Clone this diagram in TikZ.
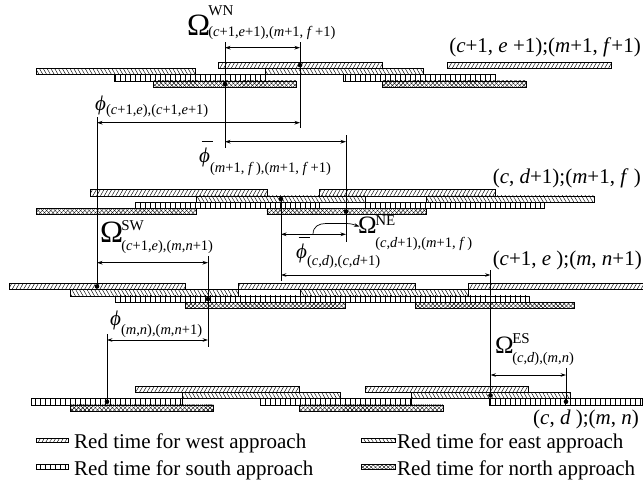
\documentclass[tikz,border=0pt]{standalone}
\usepackage{fontspec}
\setmainfont{Liberation Serif}
\usetikzlibrary{patterns.meta,arrows.meta}

% italic variable
\newcommand\vi[1]{\textit{#1}}
% Omega with super- and subscript: size, sup raise, sub drop, sup, sub
\newcommand\omlab[5]{{\fontsize{#1}{#1}\selectfont Ω\kern-.06em}\rlap{\raisebox{#2}{\fontsize{15}{15}\selectfont #4}}\raisebox{-#3}{\fontsize{14.5}{14.5}\selectfont #5}}
% phi with subscript: symbol, sub drop, sub
\newcommand\phlab[3]{{\fontsize{21}{21}\selectfont #1}\raisebox{-#2}{\fontsize{14.5}{14.5}\selectfont #3}}
\newcommand\phisym{\textit{ϕ}}
\newcommand\phibar{\rlap{\hspace{2.5pt}\rule[20.5pt]{11pt}{0.8pt}}\textit{ϕ}}

% one red-time bar per approach, drawn inside a row scope
\newcommand\westred[2]{\path[westbar] (#1,0) rectangle (#2,6.3);}
\newcommand\eastred[2]{\path[eastbar] (#1,6.3) rectangle (#2,12.6);}
\newcommand\southred[2]{\path[southbar] (#1,12.6) rectangle (#2,18.9);}
\newcommand\northred[2]{\path[northbar] (#1,18.9) rectangle (#2,25.2);}

\tikzset{
  barline/.style={draw=black,line width=.55pt},
  westbar/.style={barline,pattern={Lines[angle=60,distance=3.3pt,line width=.45pt]}},
  eastbar/.style={barline,pattern={Lines[angle=-60,distance=3.3pt,line width=.45pt]}},
  southbar/.style={barline,pattern={Lines[angle=90,distance=5pt,line width=.5pt]}},
  northbar/.style={barline,pattern={Lines[angle=45,distance=3pt,line width=.4pt]},
    postaction={pattern={Lines[angle=-45,distance=3pt,line width=.4pt]}}},
  guide/.style={line width=.7pt},
  dim/.style={line width=.7pt,{Stealth[length=5.5pt,width=3.6pt]}-{Stealth[length=5.5pt,width=3.6pt]}},
  hookarrow/.style={line width=.7pt,-{Stealth[length=5.5pt,width=3.6pt]}},
  dot/.style={circle,fill=black,inner sep=0pt,minimum size=4.6pt},
  lab/.style={inner sep=0pt,anchor=base west},
  rowlab/.style={inner sep=0pt,anchor=base east,font=\fontsize{21}{21}\selectfont},
  legtext/.style={inner sep=0pt,anchor=base west,font=\fontsize{21}{21}\selectfont},
}

\begin{document}
\begin{tikzpicture}[x=1pt,y=-1pt]
\useasboundingbox (0,0) rectangle (643,482);

% ---- row 1: (c+1, e+1);(m+1, f+1)
\begin{scope}[shift={(0,62)}]
  \westred{218.3}{382.3} \westred{447.7}{611.7}
  \eastred{36}{195} \eastred{265.7}{423.3}
  \southred{114.3}{265.7} \southred{343.3}{495}
  \northred{153}{296.7} \northred{382.3}{526}
\end{scope}
% ---- row 2: (c, d+1);(m+1, f)
\begin{scope}[shift={(0,189.5)}]
  \westred{90.5}{267} \westred{319.3}{495.5}
  \eastred{196.5}{365} \eastred{426.6}{594.5}
  \southred{135.5}{319.3} \southred{365}{544}
  \northred{36.7}{196.5} \northred{266.8}{426.6}
\end{scope}
% ---- row 3: (c+1, e);(m, n+1)
\begin{scope}[shift={(0,283.3)}]
  \westred{9.3}{185.7} \westred{238.5}{415} \westred{468}{645}
  \eastred{70.7}{238.5} \eastred{300}{468}
  \southred{115.7}{345.5} \southred{345.5}{529}
  \northred{185.7}{345.5} \northred{415}{574}
\end{scope}
% ---- row 4: (c, d);(m, n)
\begin{scope}[shift={(0,386)}]
  \westred{135.5}{299.5} \westred{365}{528.5}
  \eastred{182.5}{340.5} \eastred{411.5}{570}
  \southred{31}{182.5} \southred{260.5}{411.5} \southred{489.5}{642}
  \northred{70}{213.5} \northred{299.5}{442.8}
\end{scope}

% ---- reference points on the bars
\node[dot] (pA) at (225,84.05) {};
\node[dot] (pB) at (300,65.15) {};
\node[dot] (pC) at (281,198.95) {};
\node[dot] (pD) at (346,211.55) {};
\node[dot] (pE) at (97,286.45) {};
\node[dot] (pF) at (208,299.05) {};
\node[dot] (pG) at (107,401.75) {};
\node[dot] (pH) at (490.5,395.45) {};
\node[dot] (pI) at (566,401.75) {};

% ---- guide line ends
\coordinate (gAt) at (225,42);   \coordinate (gAb) at (225,148);
\coordinate (gBt) at (300,42);   \coordinate (gBb) at (300,128);
\coordinate (gEt) at (97,117);
\coordinate (gDt) at (346,135);  \coordinate (gDb) at (346,242);
\coordinate (gCb) at (281,281);
\coordinate (gFt) at (208,256);  \coordinate (gFb) at (208,347);
\coordinate (gGt) at (107,334);
\coordinate (gHt) at (490.5,270);
\coordinate (gIt) at (566,368);

\draw[guide] (gAt) -- (gAb);
\draw[guide] (gBt) -- (gBb);
\draw[guide] (gEt) -- (pE.center);
\draw[guide] (gDt) -- (gDb);
\draw[guide] (pC.center) -- (gCb);
\draw[guide] (gFt) -- (gFb);
\draw[guide] (gGt) -- (pG.center);
\draw[guide] (gHt) -- (pH.center);
\draw[guide] (gIt) -- (pI.center);

% ---- dimension arrows
\coordinate (wnL) at (225,47.7);   \coordinate (wnR) at (300,47.7);
\coordinate (f1L) at (97,122.7);   \coordinate (f1R) at (300,122.7);
\coordinate (f2L) at (225,141.7);  \coordinate (f2R) at (346,141.7);
\coordinate (neL) at (281,234.3);  \coordinate (neR) at (346,234.3);
\coordinate (swL) at (97,262.7);   \coordinate (swR) at (208,262.7);
\coordinate (f3L) at (281,275);    \coordinate (f3R) at (490.5,275);
\coordinate (f4L) at (107,340);    \coordinate (f4R) at (208,340);
\coordinate (esL) at (490.5,375);  \coordinate (esR) at (566,375);

\draw[dim] (wnL) -- (wnR);
\draw[dim] (f1L) -- (f1R);
\draw[dim] (f2L) -- (f2R);
\draw[dim] (neL) -- (neR);
\draw[dim] (swL) -- (swR);
\draw[dim] (f3L) -- (f3R);
\draw[dim] (f4L) -- (f4R);
\draw[dim] (esL) -- (esR);

% hook from the NE interval to its label
\coordinate (hookA) at (313,234.3);
\coordinate (hookB) at (359.5,226.5);
\draw[hookarrow] (hookA) .. controls +(0,-8) and +(-7,0) .. ++(13,-10.8) -- ++(20,0) .. controls +(6,0) and +(-5,-1.5) .. (hookB);

% ---- interval labels
\node[lab] (lWN) at (187,35) {\omlab{31pt}{20pt}{1.5pt}{WN}{(\vi{c}+1,\vi{e}+1),(\vi{m}+1, \vi{f}\,+1)}};
\node[lab] (lF1) at (95,110.4) {\phlab{\phisym}{4.3pt}{(\vi{c}+1,\vi{e}),(\vi{c}+1,\vi{e}+1)}};
\node[lab] (lF2) at (199,162.1) {\phlab{\phibar}{10.3pt}{(\vi{m}+1, \vi{f}\,),(\vi{m}+1, \vi{f}\,+1)}};
\node[lab] (lSW) at (100,242) {\omlab{31pt}{12pt}{8pt}{SW}{(\vi{c}+1,\vi{e}),(\vi{m},\vi{n}+1)}};
\node[lab] (lNE) at (358,233) {\omlab{25pt}{8pt}{14pt}{NE}{(\vi{c},\vi{d}+1),(\vi{m}+1, \vi{f}\,)}};
\node[lab] (lF3) at (296,258.4) {\phlab{\phibar}{7.3pt}{(\vi{c},\vi{d}),(\vi{c},\vi{d}+1)}};
\node[lab] (lF4) at (110,325.4) {\phlab{\phisym}{9pt}{(\vi{m},\vi{n}),(\vi{m},\vi{n}+1)}};
\node[lab] (lES) at (495,353) {\omlab{25pt}{10pt}{9pt}{ES}{(\vi{c},\vi{d}),(\vi{m},\vi{n})}};

% ---- row labels
\node[rowlab] (r1) at (641,52) {(\vi{c}+1, \vi{e} +1);(\vi{m}+1, \vi{f}+1)};
\node[rowlab] (r2) at (641,183) {(\vi{c}, \vi{d}+1);(\vi{m}+1, \vi{f} )};
\node[rowlab] (r3) at (642,265) {(\vi{c}+1, \vi{e} );(\vi{m}, \vi{n}+1)};
\node[rowlab] (r4) at (639,424) {(\vi{c}, \vi{d} );(\vi{m}, \vi{n})};

% ---- legend
\path[westbar]  (36.7,438.3) rectangle (68.3,442.7);
\path[southbar] (36.7,464.4) rectangle (68.3,468.8);
\path[eastbar]  (361.7,438.3) rectangle (395,442.7);
\path[northbar] (361.7,464.4) rectangle (395,468.8);
\node[legtext] (kW) at (74,448.3) {Red time for west approach};
\node[legtext] (kS) at (74,475) {Red time for south approach};
\node[legtext] (kE) at (397,448.3) {Red time for east approach};
\node[legtext] (kN) at (397,475) {Red time for north approach};
\end{tikzpicture}
\end{document}
